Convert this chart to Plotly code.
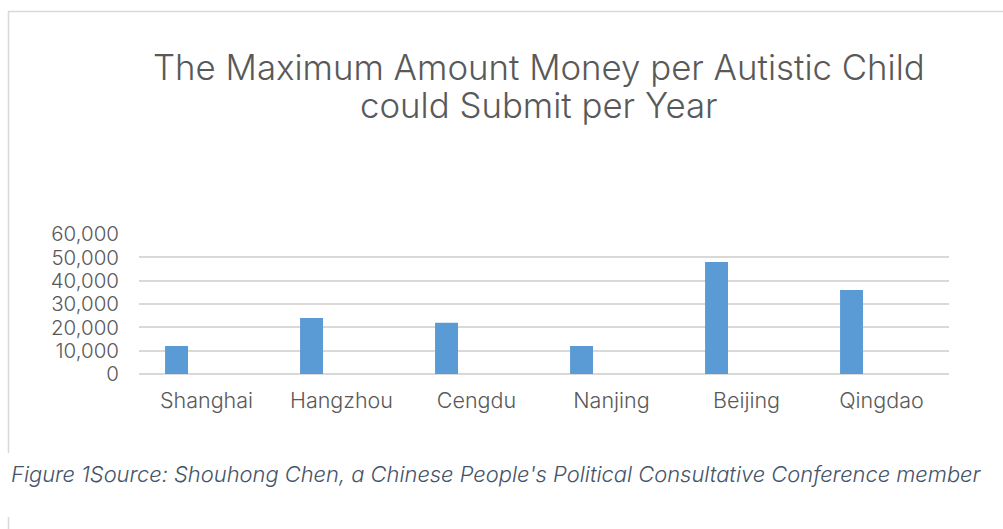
import plotly.graph_objects as go

cities = ["Shanghai", "Hangzhou", "Cengdu", "Nanjing", "Beijing", "Qingdao"]
amounts = [12000, 24000, 22000, 12000, 48000, 36000]
y_ticks = [0, 10000, 20000, 30000, 40000, 50000, 60000]
y_tick_labels = ["0", "10,000", "20,000", "30,000", "40,000", "50,000", "60,000"]

title_lines = ["The Maximum Amount Money per Autistic Child", "could Submit per Year"]
caption_text = "Figure 1Source: Shouhong Chen, a Chinese People's Political Consultative Conference member"

FONT = "Inter"

W, H = 1003, 529
L, R, T, B = 139, 949, 234, 374

def px_x(x):
    return (x - L) / (R - L)

def px_y(y):
    return (B - y) / (B - T)

fig = go.Figure()
fig.add_trace(go.Bar(
    x=cities, y=amounts,
    marker=dict(color="#5b9bd5", line=dict(width=0)),
    width=0.17, offset=-0.307,
    showlegend=False,
))

title_font = dict(size=34.8, color="#595959", family=FONT, weight=300)
annotations = []
for line, yc in zip(title_lines, [67, 105]):
    annotations.append(dict(text=line, xref="paper", yref="paper",
                            x=px_x(539), y=px_y(yc), xanchor="center", yanchor="middle",
                            showarrow=False, align="center", font=title_font))
annotations.append(dict(text="<i>" + caption_text + "</i>", xref="paper", yref="paper",
                        x=px_x(9), y=px_y(474), xanchor="left", yanchor="middle",
                        showarrow=False, align="left",
                        font=dict(size=21.9, color="#44546a", family=FONT, weight=300)))

fig.update_layout(
    width=W, height=H, autosize=False,
    margin=dict(l=L, r=W - R, t=T, b=H - B, pad=0),
    paper_bgcolor="white", plot_bgcolor="white",
    font=dict(family=FONT, color="#595959"),
    xaxis=dict(
        showgrid=False, showline=False, zeroline=False,
        tickfont=dict(size=21.5, color="#595959", family=FONT, weight=300),
        ticks="", ticklabelstandoff=11,
    ),
    yaxis=dict(
        range=[0, 60000], tickvals=y_ticks, ticktext=y_tick_labels,
        showgrid=True, gridcolor="#d9d9d9", gridwidth=1.5,
        zeroline=True, zerolinecolor="#d9d9d9", zerolinewidth=1.5,
        showline=False, ticks="", ticklabelstandoff=19,
        tickfont=dict(size=20.5, color="#595959", family=FONT, weight=300),
    ),
    annotations=annotations,
    shapes=[
        dict(type="line", xref="paper", yref="paper",
             x0=px_x(8), x1=px_x(1003), y0=px_y(11.5), y1=px_y(11.5),
             line=dict(color="#d9d9d9", width=1.5)),
        dict(type="line", xref="paper", yref="paper",
             x0=px_x(8.5), x1=px_x(8.5), y0=px_y(11), y1=px_y(453),
             line=dict(color="#d9d9d9", width=1.5)),
        dict(type="line", xref="paper", yref="paper",
             x0=px_x(8.5), x1=px_x(8.5), y0=px_y(517), y1=px_y(529),
             line=dict(color="#d9d9d9", width=1.5)),
    ],
)

fig.write_html("out.html")
